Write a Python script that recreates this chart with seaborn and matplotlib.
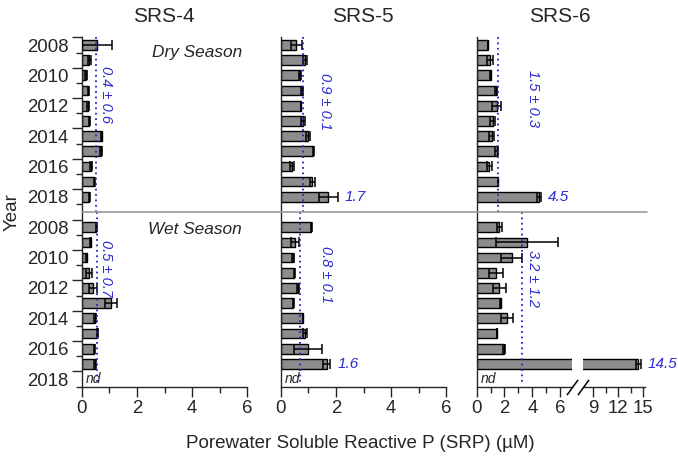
import numpy as np
import pandas as pd
import seaborn as sns
import matplotlib
matplotlib.use("Agg")
import matplotlib.pyplot as plt
import matplotlib.transforms as mtransforms
from matplotlib.lines import Line2D

# ---------------- data ----------------
years = list(range(2008, 2019))
nan = np.nan

srs4_dry = [0.55, 0.28, 0.16, 0.24, 0.23, 0.28, 0.72, 0.69, 0.33, 0.45, 0.28]
srs4_dry_err = [0.55, 0.05, 0.03, 0.02, 0.02, 0.03, 0.03, 0.03, 0.03, 0.02, 0.03]
srs4_wet = [0.52, 0.33, 0.18, 0.26, 0.41, 1.05, 0.48, 0.57, 0.46, 0.49, nan]
srs4_wet_err = [0.02, 0.02, 0.02, 0.10, 0.13, 0.22, 0.02, 0.02, 0.03, 0.03, nan]

srs5_dry = [0.56, 0.88, 0.70, 0.76, 0.73, 0.80, 0.98, 1.18, 0.40, 1.15, 1.73]
srs5_dry_err = [0.20, 0.07, 0.03, 0.04, 0.01, 0.07, 0.08, 0.01, 0.08, 0.10, 0.35]
srs5_wet = [1.10, 0.52, 0.44, 0.49, 0.62, 0.46, 0.80, 0.88, 0.98, 1.67, nan]
srs5_wet_err = [0.02, 0.15, 0.03, 0.01, 0.03, 0.02, 0.01, 0.09, 0.50, 0.13, nan]

srs6_dry = [0.80, 0.93, 1.00, 1.38, 1.43, 1.14, 1.07, 1.43, 0.91, 1.55, 4.50]
srs6_dry_err = [0.02, 0.22, 0.02, 0.06, 0.30, 0.18, 0.17, 0.10, 0.18, 0.01, 0.13]
srs6_wet = [1.63, 3.64, 2.52, 1.39, 1.63, 1.73, 2.16, 1.44, 1.96, 14.46, nan]
srs6_wet_err = [0.20, 2.24, 0.77, 0.52, 0.45, 0.05, 0.42, 0.01, 0.10, 0.30, nan]

site_names = ["SRS-4", "SRS-5", "SRS-6"]
mean_lines = {"SRS-4": [0.50, 0.54], "SRS-5": [0.82, 0.70], "SRS-6": [1.55, 3.28]}
mean_labels = {"SRS-4": ["0.4 ± 0.6", "0.5 ± 0.7"],
               "SRS-5": ["0.9 ± 0.1", "0.8 ± 0.1"],
               "SRS-6": ["1.5 ± 0.3", "3.2 ± 1.2"]}
# highlighted maxima: (site, season, year, label)
max_labels = [("SRS-5", "Dry", 2018, "1.7"), ("SRS-5", "Wet", 2017, "1.6"),
              ("SRS-6", "Dry", 2018, "4.5"), ("SRS-6", "Wet", 2017, "14.5")]
season_names = ["Dry Season", "Wet Season"]
year_tick_labels = ["2008", "2010", "2012", "2014", "2016", "2018"]
x_label = "Porewater Soluble Reactive P (SRP) (µM)"
y_label = "Year"

# ---------------- style ----------------
sns.set_style("ticks")
plt.rcParams["font.family"] = ["Liberation Sans", "DejaVu Sans"]
plt.rcParams["axes.linewidth"] = 1.0

BAR = "#8c8c8c"
BLUE = "#2b2bd2"
LINEBLUE = "#2424c0"

rows = [f"D{y}" for y in years] + ["sep"] + [f"W{y}" for y in years]
pos = {r: i for i, r in enumerate(rows)}

def site_frame(dry, dry_e, wet, wet_e):
    df = pd.DataFrame({
        "row": [f"D{y}" for y in years] + [f"W{y}" for y in years],
        "value": list(dry) + list(wet),
        "err": list(dry_e) + list(wet_e),
    })
    df["y"] = df["row"].map(pos)
    return df

frames = {
    "SRS-4": site_frame(srs4_dry, srs4_dry_err, srs4_wet, srs4_wet_err),
    "SRS-5": site_frame(srs5_dry, srs5_dry_err, srs5_wet, srs5_wet_err),
    "SRS-6": site_frame(srs6_dry, srs6_dry_err, srs6_wet, srs6_wet_err),
}

W, H = 678, 462
fig = plt.figure(figsize=(W / 100, H / 100), dpi=100)
top_px, bot_px = 37.4, 386.6
b = (H - bot_px) / H
h = (bot_px - top_px) / H

ax4 = fig.add_axes([81.7 / W, b, 165.6 / W, h])
ax5 = fig.add_axes([280.7 / W, b, 165.6 / W, h])
ax6a = fig.add_axes([476.7 / W, b, 95.2 / W, h])
ax6b = fig.add_axes([582.7 / W, b, 61.9 / W, h])

def draw_bars(ax, df):
    sns.barplot(data=df, x="value", y="row", order=rows, orient="h",
                color=BAR, saturation=1, edgecolor="black", linewidth=1.0,
                width=0.64, errorbar=None, ax=ax)
    d = df.dropna()
    ax.errorbar(d["value"], d["y"], xerr=d["err"], fmt="none", ecolor="black",
                elinewidth=1.1, capsize=3.6, capthick=1.1, zorder=5)
    ax.set_xlabel("")
    ax.set_ylabel("")
    ax.set_ylim(22.5, -0.5)

for ax, site in [(ax4, "SRS-4"), (ax5, "SRS-5"), (ax6a, "SRS-6"), (ax6b, "SRS-6")]:
    draw_bars(ax, frames[site])

# x axes
for ax in (ax4, ax5):
    ax.set_xlim(0, 6)
    ax.set_xticks([0, 2, 4, 6])
    ax.set_xticks([1, 3, 5], minor=True)
ax6a.set_xlim(0, 6.85)
ax6a.set_xticks([0, 2, 4, 6])
ax6a.set_xticks([1, 3, 5], minor=True)
ax6b.set_xlim(7.7, 15.2)
ax6b.set_xticks([9, 12, 15])
ax6b.set_xticks([10.5, 13.5], minor=True)

for ax in (ax4, ax5, ax6a, ax6b):
    sns.despine(ax=ax, top=True, right=True)
    ax.tick_params(axis="x", which="major", length=7, width=1.0, labelsize=13.4, pad=3)
    ax.tick_params(axis="x", which="minor", length=4, width=1.0)
    ax.patch.set_alpha(0)
for ax in (ax5, ax6a, ax6b):
    ax.tick_params(axis="y", which="both", left=False, labelleft=False)
ax6b.spines["left"].set_visible(False)

# y axis of SRS-4: ticks at row boundaries, labels at even years
major_y = [pos[f"D{y}"] - 0.5 for y in years[::2]] + [pos[f"W{y}"] - 0.5 for y in years[::2]]
minor_y = [pos[f"D{y}"] + 0.5 for y in years[::2]] + [pos[f"W{y}"] + 0.5 for y in years[::2]]
ax4.set_yticks(major_y)
ax4.set_yticklabels(year_tick_labels * 2)
ax4.set_yticks(minor_y, minor=True)
ax4.tick_params(axis="y", which="major", length=7, width=1.0, labelsize=13.4, pad=2.5)
ax4.tick_params(axis="y", which="minor", length=4, width=1.0)
shift = mtransforms.ScaledTranslation(0, -7.6 / 100, fig.dpi_scale_trans)
for lab in ax4.get_yticklabels():
    lab.set_transform(lab.get_transform() + shift)

# mean lines and labels
sep_y = pos["sep"]
label_x = {"SRS-4": [0.88, 0.88], "SRS-5": [1.61, 1.64], "SRS-6": [4.05, 4.05]}
label_y = {"SRS-4": [3.25, 14.7], "SRS-5": [3.7, 15.1], "SRS-6": [3.55, 15.35]}
for ax, site in [(ax4, "SRS-4"), (ax5, "SRS-5"), (ax6a, "SRS-6")]:
    m = mean_lines[site]
    ax.vlines(m[0], -0.5, sep_y, colors=LINEBLUE, linestyles=(0, (1, 2)), lw=1.3, zorder=6)
    ax.vlines(m[1], sep_y, 22.35, colors=LINEBLUE, linestyles=(0, (1, 2)), lw=1.3, zorder=6)
    for k in range(2):
        ax.text(label_x[site][k], label_y[site][k], mean_labels[site][k], rotation=-90,
                color=BLUE, fontsize=10.5, style="italic", ha="center", va="center")

# highlighted maxima labels
for site, season, yr, txt in max_labels:
    df = frames[site]
    r = df[df["row"] == f"{season[0]}{yr}"].iloc[0]
    if site == "SRS-6" and r["value"] > 7:
        ax = ax6b
    else:
        ax = {"SRS-4": ax4, "SRS-5": ax5, "SRS-6": ax6a}[site]
    ax.annotate(txt, xy=(r["value"] + r["err"], r["y"]), xytext=(5, 0),
                textcoords="offset points", color=BLUE, fontsize=11, style="italic",
                ha="left", va="center", annotation_clip=False)

# nd labels
for ax, site in [(ax4, "SRS-4"), (ax5, "SRS-5"), (ax6a, "SRS-6")]:
    df = frames[site]
    for _, r in df[df["value"].isna()].iterrows():
        ax.annotate("nd", xy=(0, r["y"]), xytext=(3, 0), textcoords="offset points",
                    fontsize=10, style="italic", ha="left", va="center")

# season labels
ax4.text(0.968, pos["D2008"] + 0.5, season_names[0], transform=ax4.get_yaxis_transform(),
         ha="right", va="center", fontsize=12.4, style="italic")
ax4.text(0.968, pos["W2008"] + 0.15, season_names[1], transform=ax4.get_yaxis_transform(),
         ha="right", va="center", fontsize=12.4, style="italic")

# separator across all panels
trans = mtransforms.blended_transform_factory(fig.transFigure, ax4.transData)
x0 = ax4.get_position().x0
x1 = ax6b.get_position().x1 + 2 / W
fig.add_artist(Line2D([x0, x1], [sep_y, sep_y], transform=trans, color="#9a9a9a", lw=1.2))

# axis break marks
for ax, xa in [(ax6a, 1.0), (ax6b, 0.0)]:
    ax.plot([xa], [0], transform=ax.transAxes, marker=[(-0.8, -1.1), (0.8, 1.1)],
            markersize=11, ls="none", color="k", mec="k", mew=1.1, clip_on=False, zorder=10)

# titles and labels
for name, cx in zip(site_names, [164, 363, 560]):
    fig.text(cx / W, 1 - 16 / H, name, ha="center", va="center", fontsize=15)
fig.text(360 / W, 1 - 444 / H, x_label, ha="center", va="center", fontsize=13.5)
fig.text(12 / W, 1 - 212 / H, y_label, ha="center", va="center", rotation=90, fontsize=13.5)

fig.savefig("out.png", dpi=100)
